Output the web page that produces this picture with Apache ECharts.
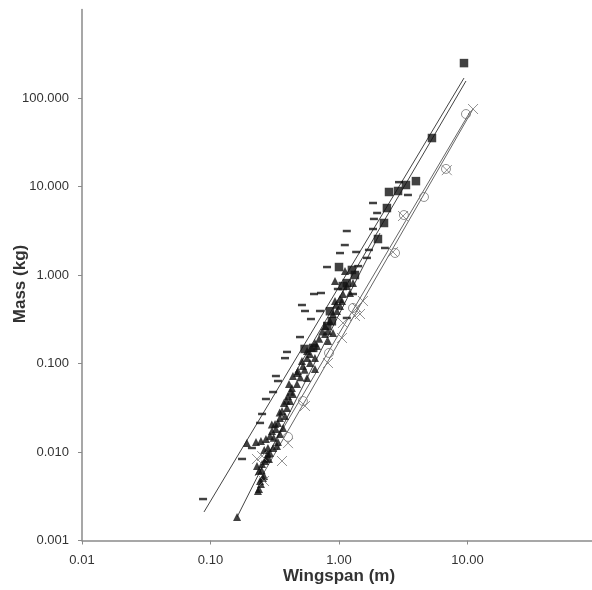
<!DOCTYPE html>
<html>
<head>
<meta charset="utf-8">
<script src="https://cdn.jsdelivr.net/npm/echarts@6/dist/echarts.min.js"></script>
<style>
  html, body { margin: 0; padding: 0; background: #fff; }
  #chart { width: 592px; height: 590px; }
</style>
</head>
<body>
<div id="chart"></div>
<script>
// --- datos: [envergadura (m), masa (kg)] ---
const squares = [
    [9.39, 248], [5.29, 35.3], [3.97, 11.5], [3.32, 10.4], [2.88, 8.9], [2.45, 8.67],
    [2.36, 5.71], [2.24, 3.87], [2.01, 2.55], [1.33, 1.0], [1.0, 1.23], [1.26, 1.14],
    [1.15, 0.81], [1.07, 0.75], [0.85, 0.39], [0.88, 0.30], [0.81, 0.265],
    [0.54, 0.146], [0.63, 0.15]
];
const dashes = [
    [0.0875, 0.00294], [0.176, 0.00834], [0.21, 0.0111], [0.243, 0.0213], [0.252, 0.0269],
    [0.27, 0.0397], [0.307, 0.0476], [0.335, 0.0634], [0.323, 0.0722], [0.38, 0.115],
    [0.394, 0.135], [0.497, 0.199], [0.515, 0.458], [0.544, 0.392], [0.605, 0.318],
    [0.639, 0.61], [0.724, 0.626], [0.711, 0.392], [0.807, 1.23], [1.018, 1.77],
    [1.11, 2.18], [1.36, 1.82], [1.71, 1.92], [1.65, 1.56], [1.15, 3.14], [1.84, 6.51],
    [1.98, 5.02], [1.87, 4.30], [1.84, 3.31], [1.285, 0.61], [1.15, 0.327], [1.41, 1.26],
    [2.93, 11.2], [3.44, 8.02], [2.28, 2.02], [0.98, 0.695]
];
const triangles = [
    [0.161, 0.00184], [0.2385, 0.00382], [0.234, 0.00362], [0.247, 0.00435], [0.256, 0.00508],
    [0.243, 0.0047], [0.2385, 0.0061], [0.23, 0.00695], [0.252, 0.00732], [0.266, 0.00791],
    [0.285, 0.00834], [0.261, 0.00536], [0.28, 0.0095], [0.29, 0.00975], [0.307, 0.0111],
    [0.28, 0.0111], [0.226, 0.013], [0.192, 0.0126], [0.247, 0.0133], [0.27, 0.014],
    [0.29, 0.0152], [0.301, 0.0173], [0.323, 0.0182], [0.318, 0.0207], [0.335, 0.0213],
    [0.347, 0.0242], [0.38, 0.0255], [0.36, 0.0291], [0.394, 0.0314], [0.373, 0.0358],
    [0.416, 0.0377], [0.40, 0.0429], [0.438, 0.0452], [0.43, 0.0528], [0.471, 0.0586],
    [0.438, 0.0722], [0.471, 0.0781], [0.564, 0.0686], [0.329, 0.0117], [0.335, 0.013],
    [0.347, 0.016], [0.367, 0.0187], [0.408, 0.0586], [0.479, 0.0823], [0.524, 0.0937],
    [0.515, 0.1067], [0.564, 0.1154], [0.595, 0.1013], [0.65, 0.0867], [0.564, 0.1384],
    [0.616, 0.1497], [0.674, 0.1577], [0.778, 0.2155], [0.821, 0.2329], [0.898, 0.2212],
    [0.778, 0.2652], [0.851, 0.302], [0.898, 0.3625], [0.965, 0.392], [1.018, 0.4465],
    [0.931, 0.508], [1.055, 0.508], [1.074, 0.61], [1.218, 0.626], [1.154, 0.751],
    [1.285, 0.812], [0.931, 0.8555], [1.018, 0.5355], [0.65, 0.1706], [0.595, 0.128],
    [0.65, 0.1154], [0.821, 0.1796], [1.113, 1.11],
    [0.25, 0.0062], [0.27, 0.0085], [0.262, 0.0105], [0.31, 0.0145], [0.30, 0.0205],
    [0.345, 0.028], [0.39, 0.038], [0.42, 0.048], [0.50, 0.07], [0.54, 0.085],
    [0.70, 0.19], [0.74, 0.23], [0.95, 0.46]
];
const circles = [
    [0.401, 0.0148], [0.524, 0.0377], [0.836, 0.1315], [1.285, 0.4237], [2.73, 1.773],
    [3.2, 4.76], [4.585, 7.61], [6.8, 15.8], [9.73, 65.9]
];
const crosses = [
    [11.04, 75.1], [6.9, 15.3], [3.15, 4.64], [2.63, 1.82], [1.537, 0.508], [1.457, 0.3625],
    [1.055, 0.1942], [0.821, 0.1013], [0.544, 0.0331], [0.401, 0.0126], [0.36, 0.00791],
    [0.23, 0.00834], [0.252, 0.009], [0.261, 0.0047], [1.38, 0.4237], [1.074, 0.287],
    [1.332, 0.344]
];
// rectas de ajuste (extremos)
const fitLines = [
    [[0.089, 0.0021], [9.39, 168]],
    [[0.161, 0.00184], [2.085, 2.98]],
    [[0.4545, 0.0781], [9.73, 155.6]],
    [[0.222, 0.00536], [10.45, 69.5]],
    [[0.234, 0.00447], [11.04, 75.1]]
];
const lineColors = ['#444', '#444', '#444', '#666', '#666'];
// marcas de los ejes
const xTicks = [0.01, 0.1, 1, 10, 100];
const yTicks = [0.001, 0.01, 0.1, 1, 10, 100];

const chart = echarts.init(document.getElementById('chart'));
const font = 'Liberation Sans, Arial, sans-serif';

const lineSeries = fitLines.map((pts, i) => ({
    type: 'line',
    data: pts,
    showSymbol: false,
    silent: true,
    z: 1,
    lineStyle: { color: lineColors[i], width: 1 }
}));

chart.setOption({
    animation: false,
    backgroundColor: '#fff',
    grid: { left: 82, top: 9.5, width: 514, height: 531, containLabel: false, outerBoundsMode: 'none' },
    xAxis: {
        type: 'log',
        min: 0.01,
        max: 100,
        name: 'Wingspan (m)',
        nameLocation: 'middle',
        nameGap: 27,
        nameMoveOverlap: false,
        nameTextStyle: { fontFamily: font, fontSize: 17, fontWeight: 'bold', color: '#333' },
        axisLine: { lineStyle: { color: '#8a8a8a', width: 1.5 } },
        axisTick: { length: 4, customValues: xTicks, lineStyle: { color: '#8a8a8a' } },
        minorTick: { show: false },
        splitLine: { show: false },
        axisLabel: {
            margin: 13,
            customValues: xTicks.slice(0, 4),
            fontFamily: font,
            fontSize: 13,
            color: '#333',
            formatter: v => v.toFixed(2)
        }
    },
    yAxis: {
        type: 'log',
        min: 0.001,
        max: 1000,
        name: 'Mass (kg)',
        nameLocation: 'middle',
        nameGap: 53,
        nameMoveOverlap: false,
        nameTextStyle: {
            fontFamily: font, fontSize: 17, fontWeight: 'bold', color: '#333',
            padding: [0, 18, 0, 0]
        },
        axisLine: { lineStyle: { color: '#8a8a8a', width: 1.5 } },
        axisTick: { length: 4, customValues: yTicks, lineStyle: { color: '#8a8a8a' } },
        splitLine: { show: false },
        axisLabel: {
            margin: 13,
            customValues: yTicks,
            fontFamily: font,
            fontSize: 13,
            color: '#333',
            formatter: v => v.toFixed(3)
        }
    },
    series: lineSeries.concat([
        {
            type: 'scatter', data: dashes, symbol: 'rect', symbolSize: [8, 2.5], z: 3,
            itemStyle: { color: '#111' }
        },
        {
            type: 'scatter', data: triangles, symbol: 'triangle', symbolSize: 8, z: 3,
            itemStyle: { color: '#111' }
        },
        {
            type: 'scatter', data: squares, symbol: 'rect', symbolSize: 8.5, z: 3,
            itemStyle: { color: '#111' }
        },
        {
            type: 'scatter', data: circles, symbol: 'circle', symbolSize: 9, z: 3,
            itemStyle: { color: 'rgba(255,255,255,0)', borderColor: '#777', borderWidth: 1 }
        },
        {
            type: 'scatter', data: crosses, symbol: 'path://M0,0L10,10M0,10L10,0', symbolSize: 10, z: 3,
            itemStyle: { color: 'rgba(0,0,0,0)', borderColor: '#777', borderWidth: 1 }
        }
    ])
});
</script>
</body>
</html>
